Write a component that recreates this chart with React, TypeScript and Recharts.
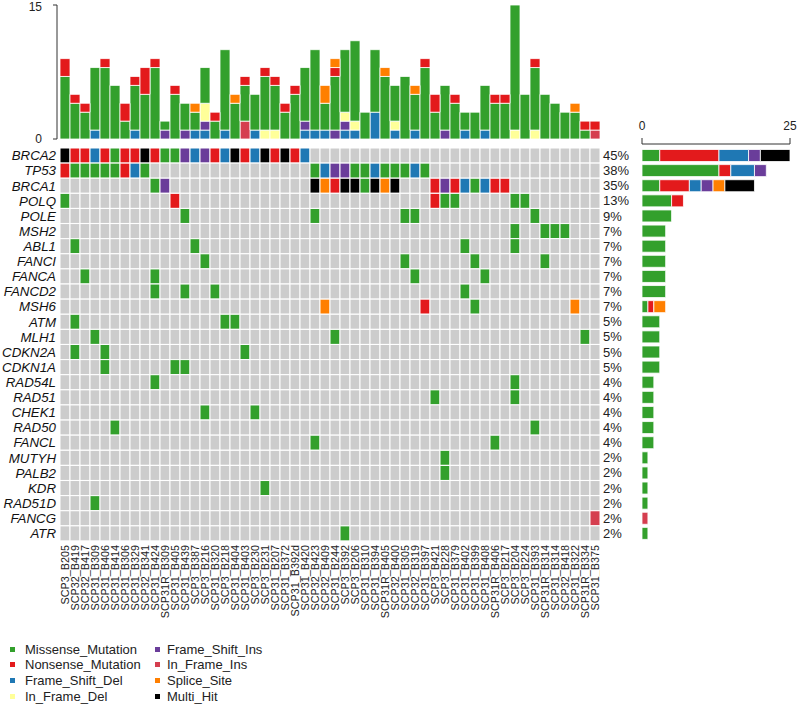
import React from "react";
import { BarChart, Bar, XAxis, YAxis, Cell } from "recharts";

const genes = ["BRCA2", "TP53", "BRCA1", "POLQ", "POLE", "MSH2", "ABL1", "FANCI", "FANCA", "FANCD2", "MSH6", "ATM", "MLH1", "CDKN2A", "CDKN1A", "RAD54L", "RAD51", "CHEK1", "RAD50", "FANCL", "MUTYH", "PALB2", "KDR", "RAD51D", "FANCG", "ATR"];
const geneFreq = ["45%", "38%", "35%", "13%", "9%", "7%", "7%", "7%", "7%", "7%", "7%", "5%", "5%", "5%", "5%", "4%", "4%", "4%", "4%", "4%", "2%", "2%", "2%", "2%", "2%", "2%"];

const samples = [
  "SCP3_B205", "SCP32_B419", "SCP32_B417", "SCP31_B309", "SCP31_B406", "SCP31_B414", "SCP31_B306", "SCP31_B329", "SCP32_B341", "SCP31_B424",
  "SCP31R_B309", "SCP31_B405", "SCP31_B439", "SCP3_B387", "SCP3_B216", "SCP31_B320", "SCP3_B218", "SCP31_B404", "SCP31_B403", "SCP3_B230",
  "SCP3_B231", "SCP31_B207", "SCP31_B372", "SCP31_B392d", "SCP31_B420", "SCP32_B423", "SCP32_B409", "SCP31_B244", "SCP3_B392", "SCP3_B206",
  "SCP31_B310", "SCP31_B394", "SCP31R_B405", "SCP32_B400", "SCP31_B305", "SCP32_B319", "SCP31_B397", "SCP3_B421", "SCP3_B228", "SCP31_B379",
  "SCP31_B402", "SCP31_B399", "SCP31_B408", "SCP31R_B406", "SCP3_B217", "SCP3_B204", "SCP3_B224", "SCP31_B393", "SCP31R_B314", "SCP31_B314",
  "SCP32_B418", "SCP31_B322", "SCP31R_B334", "SCP31_B375",
];

// variant classes: code, label, colour
const vcCodes = ["M", "N", "D", "d", "I", "i", "S", "X"];
const vcNames = ["Missense_Mutation", "Nonsense_Mutation", "Frame_Shift_Del", "In_Frame_Del", "Frame_Shift_Ins", "In_Frame_Ins", "Splice_Site", "Multi_Hit"];
const vcColors = ["#33A02C", "#E31A1C", "#1F78B4", "#FFFF99", "#6A3D9A", "#D53E4F", "#FF7F00", "#000000"];

// oncoplot cells per gene: "sampleIndex + code"
const geneHits = [
  "0X 1N 2N 3D 4N 5M 6N 7N 8X 9N 10M 11M 12I 13D 14I 15N 16D 17X 18N 19D 20X 21N 22X 23N 24D",
  "0N 1M 2M 3M 4M 5M 6N 7D 8M 25M 26D 27I 28I 29M 30M 31D 32M 33M 34M 35D 36M",
  "9M 10I 25X 26S 27N 28X 29X 30M 31X 32S 33X 37N 38I 39N 40D 41M 42D 43N 44N",
  "0M 11N 37N 38M 39M 45M 46M",
  "12M 25M 34M 35M 47M",
  "45M 48M 49M 50M",
  "1M 13M 40M 45M",
  "14M 34M 41M 48M",
  "2M 9M 35M 42M",
  "9M 12M 15M 40M",
  "26S 36N 41M 51S",
  "1M 16M 17M",
  "3M 27M 52M",
  "1M 4M 18M",
  "4M 11M 12M",
  "9M 45M",
  "37M 45M",
  "14M 19M",
  "5M 47M",
  "25M 43M",
  "38M",
  "38M",
  "20M",
  "3M",
  "53i",
  "28M",
];

// variants per sample (top bar plot)
const topMissense = [7, 4, 3, 7, 8, 6, 2, 5, 5, 8, 1, 5, 3, 2, 4, 2, 9, 4, 4, 4, 6, 5, 3, 5, 6, 9, 3, 6, 7, 9, 3, 7, 7, 4, 7, 4, 8, 3, 5, 4, 2, 3, 5, 4, 4, 14, 5, 7, 5, 4, 3, 3, 1, 0];
const topNonsense = [2, 1, 1, 0, 1, 0, 2, 1, 3, 1, 0, 1, 0, 0, 0, 1, 0, 0, 1, 0, 1, 1, 1, 1, 0, 0, 0, 1, 0, 0, 0, 0, 0, 0, 0, 0, 1, 2, 0, 1, 0, 0, 0, 1, 1, 0, 0, 1, 0, 0, 0, 0, 1, 1];
const topFrameShiftDel = [0, 0, 0, 1, 0, 0, 0, 1, 0, 0, 0, 0, 0, 1, 1, 0, 1, 0, 0, 1, 0, 0, 0, 0, 1, 1, 1, 0, 1, 1, 0, 3, 0, 1, 0, 1, 0, 0, 0, 0, 1, 0, 1, 0, 0, 0, 0, 0, 0, 0, 0, 0, 0, 0];
const topFrameShiftIns = [0, 0, 0, 0, 0, 0, 0, 0, 0, 0, 1, 0, 1, 0, 1, 0, 0, 0, 0, 0, 0, 0, 0, 0, 1, 0, 0, 1, 1, 0, 0, 0, 0, 0, 0, 0, 0, 0, 1, 0, 0, 0, 0, 0, 0, 0, 0, 0, 0, 0, 0, 0, 0, 0];
const topInFrameDel = [0, 0, 0, 0, 0, 0, 0, 0, 0, 0, 0, 0, 0, 0, 2, 0, 0, 0, 0, 0, 1, 1, 0, 0, 0, 0, 0, 0, 1, 1, 0, 0, 0, 1, 0, 0, 0, 0, 0, 0, 0, 0, 0, 0, 0, 1, 0, 1, 0, 0, 0, 0, 0, 0];
const topInFrameIns = [0, 0, 0, 0, 0, 0, 0, 0, 0, 0, 0, 0, 0, 0, 0, 0, 0, 0, 2, 0, 0, 0, 0, 0, 0, 0, 0, 0, 0, 0, 0, 0, 0, 0, 0, 0, 0, 0, 0, 0, 0, 0, 0, 0, 0, 0, 0, 0, 0, 0, 0, 0, 0, 1];
const topSplice = [0, 0, 0, 0, 0, 0, 0, 0, 0, 0, 0, 0, 0, 1, 0, 0, 0, 1, 0, 0, 0, 0, 0, 0, 0, 0, 2, 1, 0, 0, 0, 0, 1, 0, 0, 1, 0, 0, 0, 0, 0, 0, 0, 0, 0, 0, 0, 0, 0, 0, 0, 1, 0, 0];

const GREY = "#CCCCCC";
const colorOf = (code: string) => vcColors[vcCodes.indexOf(code)];

const cellCodes: string[][] = geneHits.map((row) => {
  const out = samples.map(() => "");
  row.split(" ").forEach((h) => {
    out[parseInt(h, 10)] = h.replace(/[0-9]/g, "");
  });
  return out;
});

const gridData = genes.map((g) => {
  const row: any = { gene: g };
  samples.forEach((_, i) => (row["s" + i] = 1));
  return row;
});

const topData = samples.map((s, i) => ({
  sample: s,
  D: topFrameShiftDel[i],
  I: topFrameShiftIns[i],
  d: topInFrameDel[i],
  i: topInFrameIns[i],
  M: topMissense[i],
  N: topNonsense[i],
  S: topSplice[i],
}));
const topOrder = ["D", "I", "d", "i", "M", "N", "S"];

const rightData = genes.map((g, r) => {
  const row: any = { gene: g };
  vcCodes.forEach((c) => (row[c] = cellCodes[r].filter((x) => x === c).length));
  return row;
});

const FONT = "'Liberation Sans', Arial, Helvetica, sans-serif";

const SampleTick = (props: any) => {
  const { x, y, payload } = props;
  const name = samples[Math.floor(payload.value)];
  return (
    <text x={x} y={y} transform={`rotate(-90 ${x} ${y})`} textAnchor="end" dominantBaseline="central" fontSize={10.8} fill="#222">
      {name}
    </text>
  );
};

const CountTick = (props: any) => {
  const { x, y, payload } = props;
  // keep the top label inside the page
  const shift = payload.value > 0 ? 2 : 0;
  return (
    <text x={x} y={y + shift} textAnchor="end" dominantBaseline="central" fontSize={12} fill="#222">
      {payload.value}
    </text>
  );
};

const FreqTick = (props: any) => {
  const { y, payload } = props;
  const idx = genes.indexOf(payload.value);
  return (
    <text x={3} y={y} textAnchor="start" dominantBaseline="central" fontSize={13} fill="#222">
      {geneFreq[idx]}
    </text>
  );
};

export default function App() {
  return (
    <div style={{ position: "absolute", left: 0, top: 0, width: 797, height: 707, background: "#fff", fontFamily: FONT }}>
      {/* variants per sample */}
      <div style={{ position: "absolute", left: 0, top: 1 }}>
        <BarChart width={600} height={147} data={topData} margin={{ top: 4, right: 0, bottom: 9, left: 0 }} barCategoryGap={0}>
          <XAxis dataKey="sample" hide padding={{ left: 3, right: 0 }} />
          <YAxis
            width={57}
            domain={[0, 15]}
            ticks={[0, 15]}
            interval={0}
            stroke="#333"
            tick={<CountTick />}
            tickSize={4}
            tickMargin={11}
          />
          {topOrder.map((c) => (
            <Bar key={c} dataKey={c} stackId="v" fill={colorOf(c)} stroke="#fff" strokeWidth={0.8} isAnimationActive={false} />
          ))}
        </BarChart>
      </div>

      {/* oncoplot matrix */}
      <div style={{ position: "absolute", left: 0, top: 0 }}>
        <BarChart width={600} height={660} data={gridData} layout="vertical" margin={{ top: 148, right: 0, bottom: 0, left: 0 }} barCategoryGap={0}>
          <XAxis
            type="number"
            domain={[0, samples.length]}
            ticks={samples.map((_, i) => i + 0.5)}
            interval={0}
            height={119}
            axisLine={false}
            tickLine={false}
            tickSize={0}
            tickMargin={4}
            tick={<SampleTick />}
          />
          <YAxis
            type="category"
            dataKey="gene"
            width={60}
            axisLine={false}
            tickLine={false}
            tickSize={0}
            tickMargin={4}
            interval={0}
            tick={{ fontSize: 13.3, fontStyle: "italic", fill: "#111" }}
          />
          {samples.map((_, i) => (
            <Bar key={i} dataKey={"s" + i} stackId="g" stroke="#fff" strokeWidth={1} isAnimationActive={false}>
              {genes.map((g, r) => (
                <Cell key={g} fill={cellCodes[r][i] ? colorOf(cellCodes[r][i]) : GREY} />
              ))}
            </Bar>
          ))}
        </BarChart>
      </div>

      {/* mutations per gene */}
      <div style={{ position: "absolute", left: 600, top: 0 }}>
        <BarChart width={197} height={560} data={rightData} layout="vertical" margin={{ top: 114, right: 7, bottom: 19, left: 0 }} barCategoryGap={1.5}>
          <XAxis
            type="number"
            orientation="top"
            domain={[0, 25]}
            ticks={[0, 25]}
            interval={0}
            height={30}
            stroke="#333"
            tickSize={6}
            tickMargin={8}
            tick={{ fontSize: 12, fill: "#222" }}
          />
          <YAxis
            type="category"
            dataKey="gene"
            width={42}
            axisLine={false}
            tickLine={false}
            interval={0}
            padding={{ top: 4, bottom: 0 }}
            tick={<FreqTick />}
          />
          {vcCodes.map((c) => (
            <Bar key={c} dataKey={c} stackId="r" fill={colorOf(c)} stroke="#fff" strokeWidth={0.8} isAnimationActive={false} />
          ))}
        </BarChart>
      </div>

      {/* legend */}
      {vcNames.map((name, k) => {
        const col = Math.floor(k / 4);
        const row = k % 4;
        return (
          <div
            key={name}
            style={{
              position: "absolute",
              left: col === 0 ? 10 : 155,
              top: 641 + row * 15.8,
              height: 16,
              display: "flex",
              alignItems: "center",
              fontSize: 13,
              color: "#222",
              whiteSpace: "nowrap",
            }}
          >
            <span style={{ display: "inline-block", width: 5, height: 5, background: vcColors[k], marginRight: col === 0 ? 10 : 7 }} />
            {name}
          </div>
        );
      })}
    </div>
  );
}
